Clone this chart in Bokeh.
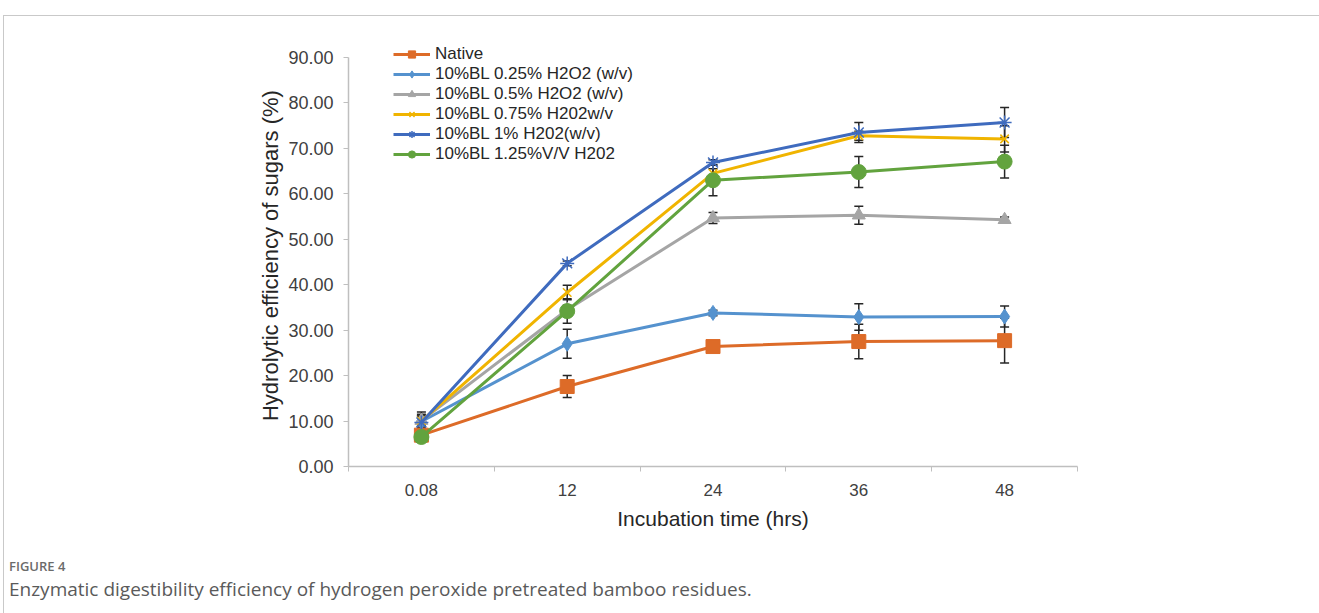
from bokeh.plotting import figure
from bokeh.layouts import column
from bokeh.models import (Range1d, FixedTicker, NumeralTickFormatter, Legend, LegendItem,
                          Whisker, TeeHead, ColumnDataSource, Div)
from bokeh.embed import file_html
from bokeh.resources import INLINE

# ---------------- data ----------------
categories = ["0.08", "12", "24", "36", "48"]

names = ["Native",
         "10%BL 0.25% H2O2 (w/v)",
         "10%BL 0.5% H2O2 (w/v)",
         "10%BL 0.75% H202w/v",
         "10%BL 1% H202(w/v)",
         "10%BL 1.25%V/V H202"]

native = [6.9, 17.6, 26.4, 27.5, 27.7]
native_err = [1.0, 2.4, 0.6, 3.8, 4.9]

h025 = [9.9, 27.0, 33.8, 32.9, 33.0]
h025_err = [1.2, 3.2, 0.6, 2.9, 2.3]

h05 = [10.1, 34.5, 54.7, 55.3, 54.3]
h05_err = [1.0, 1.0, 1.2, 2.0, 0.6]

h075 = [10.0, 38.3, 64.5, 72.8, 72.1]
h075_err = [1.5, 1.6, 1.0, 1.0, 2.9]

h1 = [9.7, 44.7, 66.9, 73.5, 75.7]
h1_err = [2.3, 0.5, 0.6, 2.2, 3.3]

h125 = [6.5, 34.2, 63.0, 64.8, 67.1]
h125_err = [1.1, 2.7, 3.4, 3.4, 3.6]

y_ticks = [0, 10, 20, 30, 40, 50, 60, 70, 80, 90]
y_min, y_max = 0, 90

caption_label = "FIGURE 4"
caption_text = "Enzymatic digestibility efficiency of hydrogen peroxide pretreated bamboo residues."

# ---------------- styles ----------------
colors = ["#DD6B28", "#5592CE", "#A5A5A5", "#F0B400", "#3F6BBE", "#62A33E"]
markers = ["square", "diamond", "triangle", "x", "asterisk", "circle"]
msizes = [14, 15, 13, 12, 14, 15]
values = [native, h025, h05, h075, h1, h125]
errors = [native_err, h025_err, h05_err, h075_err, h1_err, h125_err]

FONT = "Liberation Sans"
W, H = 1315, 540

p = figure(width=W, height=H, output_backend="svg", toolbar_location=None,
           x_range=Range1d(-0.5, len(categories) - 0.5), y_range=Range1d(y_min, 94.19),
           min_border_left=344, min_border_right=242, min_border_top=22, min_border_bottom=90)
p.outline_line_color = None
p.xgrid.grid_line_color = None
p.ygrid.grid_line_color = None
p.background_fill_color = "white"
p.border_fill_color = "white"

xs = list(range(len(categories)))

# x axis
xa = p.xaxis[0]
xa.ticker = FixedTicker(ticks=xs, minor_ticks=[i - 0.5 for i in range(len(categories) + 1)])
xa.major_label_overrides = {i: c for i, c in enumerate(categories)}
xa.major_tick_line_color = None
xa.major_tick_out = 0
xa.major_tick_in = 0
xa.minor_tick_out = 5
xa.minor_tick_in = 0
xa.minor_tick_line_color = "#bfbfbf"
xa.axis_line_color = "#bfbfbf"
xa.axis_line_width = 1.5
xa.major_label_text_font = FONT
xa.major_label_text_font_size = "17px"
xa.major_label_text_color = "#404040"
xa.major_label_standoff = 12
xa.axis_label = "Incubation time (hrs)"
xa.axis_label_text_font = FONT
xa.axis_label_text_font_size = "21px"
xa.axis_label_text_font_style = "normal"
xa.axis_label_text_color = "#262626"
xa.axis_label_standoff = 8

# y axis
ya = p.yaxis[0]
ya.bounds = (y_min, y_max)
ya.ticker = FixedTicker(ticks=y_ticks)
ya.formatter = NumeralTickFormatter(format="0.00")
ya.major_tick_out = 5
ya.major_tick_in = 0
ya.minor_tick_line_color = None
ya.major_tick_line_color = "#bfbfbf"
ya.axis_line_color = "#bfbfbf"
ya.axis_line_width = 1.5
ya.major_label_text_font = FONT
ya.major_label_text_font_size = "18px"
ya.major_label_text_color = "#404040"
ya.major_label_standoff = 10
ya.axis_label = "Hydrolytic  efficiency of sugars (%)"
ya.axis_label_text_font = FONT
ya.axis_label_text_font_size = "22px"
ya.axis_label_text_font_style = "normal"
ya.axis_label_text_color = "#262626"
ya.axis_label_standoff = 2

items = []
for name, vals, errs, col, mk, ms in zip(names, values, errors, colors, markers, msizes):
    src = ColumnDataSource(dict(
        x=xs, y=vals,
        upper=[v + e for v, e in zip(vals, errs)],
        lower=[v - e for v, e in zip(vals, errs)]))
    w = Whisker(source=src, base="x", upper="upper", lower="lower",
                line_color="#262626", line_width=1.5,
                upper_head=TeeHead(size=9, line_color="#262626", line_width=1.5),
                lower_head=TeeHead(size=9, line_color="#262626", line_width=1.5))
    p.add_layout(w)
    lr = p.line("x", "y", source=src, line_color=col, line_width=3)
    if mk in ("x", "asterisk"):
        sr = p.scatter("x", "y", source=src, marker=mk, size=ms,
                       line_color=col, line_width=1.5, fill_color=col)
    else:
        sr = p.scatter("x", "y", source=src, marker=mk, size=ms,
                       line_color=col, fill_color=col, line_width=1)
    items.append(LegendItem(label=name, renderers=[lr, sr]))

legend = Legend(items=items, location=(45, 302), orientation="vertical",
                label_text_font=FONT, label_text_font_size="17px",
                label_text_color="#262626",
                glyph_width=37, glyph_height=18, label_height=18, label_standoff=5,
                spacing=0, padding=0, margin=0,
                border_line_color=None, background_fill_alpha=0)
p.add_layout(legend, "center")

cap = Div(width=W, height=48,
          text=(f'<div style="padding:0;font-family:\'Open Sans\',sans-serif;">'
                f'<div style="font-size:13px;line-height:10px;font-weight:600;color:#6b6b6b;">{caption_label}</div>'
                f'<div style="margin-top:7px;font-size:19px;line-height:22px;color:#5a5a5a;white-space:nowrap;">{caption_text}</div>'
                f'</div>'))

layout = column(p, cap, spacing=0,
                styles={"margin-left": "3px", "margin-top": "15px",
                        "border-top": "1px solid #c9c9c9", "border-left": "1px solid #c9c9c9"})

open("out.html", "w").write(file_html(layout, INLINE))
